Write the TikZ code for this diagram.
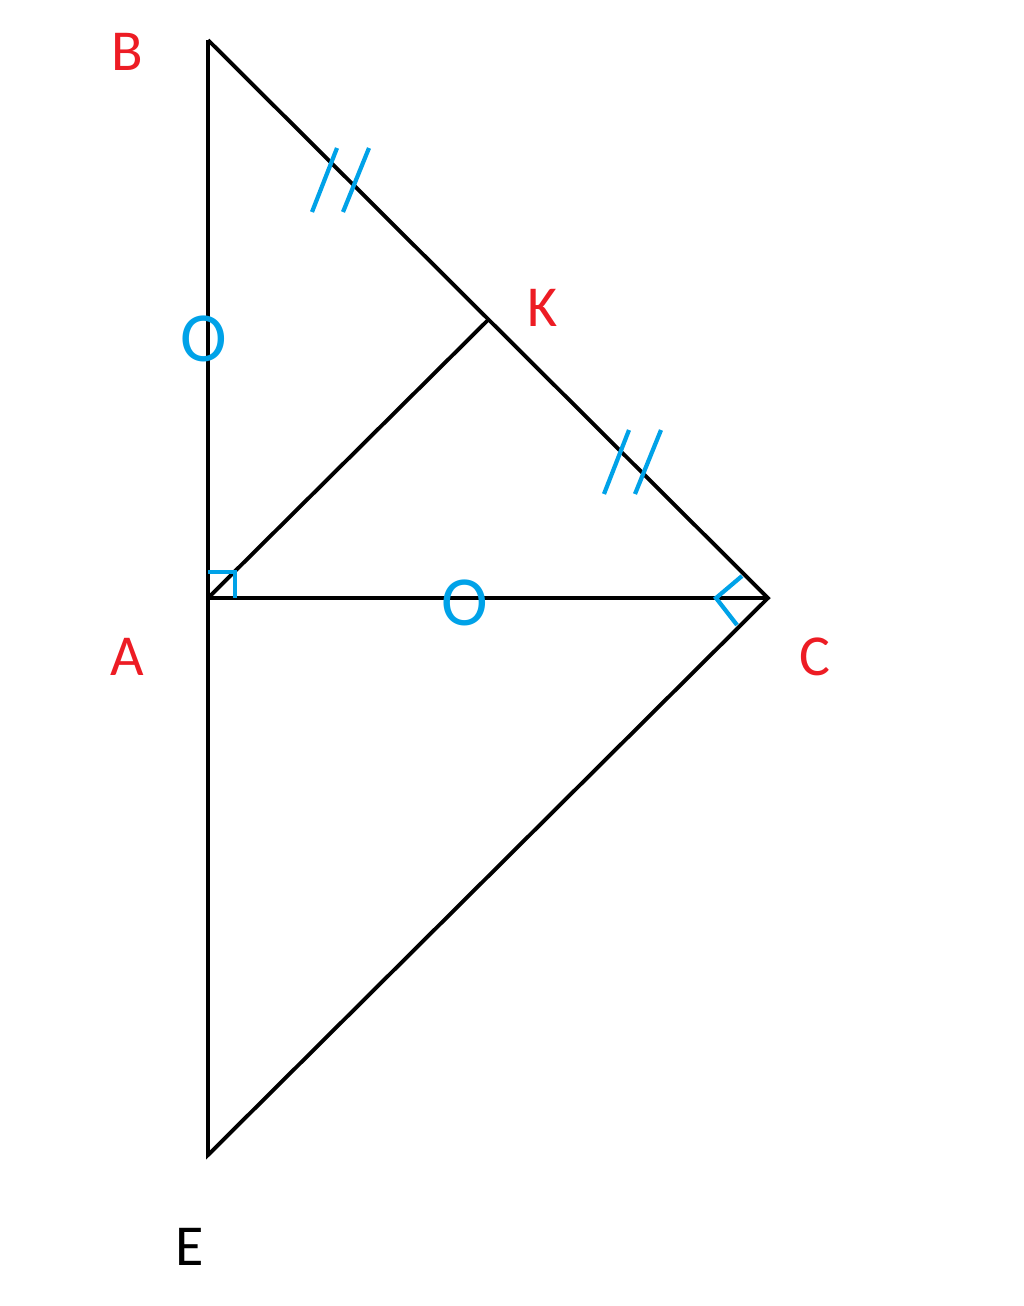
\documentclass[tikz,border=0pt]{standalone}
\usepackage{fontspec}
\setmainfont{Carlito}
\usepackage{xcolor}
\usetikzlibrary{calc}
\definecolor{markblue}{RGB}{0,162,232}
\definecolor{labelred}{RGB}{237,28,36}

\begin{document}
\begin{tikzpicture}[
  x=0.02cm, y=-0.02cm,
  side/.style={draw=black, line width=2.2pt},
  tick/.style={draw=markblue, line width=2.4pt},
  ptlabel/.style={text=labelred, font=\fontsize{33}{36}\selectfont, inner sep=0pt},
  ringmark/.style={text=markblue, font=\fontsize{40}{42}\selectfont, inner sep=0pt}
]
\useasboundingbox (0,0) rectangle (1024,1306);
\coordinate (A) at (208,598);
\coordinate (B) at (208,40);
\coordinate (C) at (768,598);
\coordinate (K) at (488,320);
\coordinate (E) at (208,1155);

% sides
\draw[side] (B) -- (A) -- (E) -- (C) -- (B);
\draw[side] (A) -- (C);
\draw[side] (A) -- (K);

% marks
\draw[tick] ($(A)+(0,-26)$) -- ($(A)+(27,-26)$) -- ($(A)+(27,0)$);
\draw[tick] (742,576) -- (716,598) -- (737,625);
\draw[tick] (312,212) -- (337,148);
\draw[tick] (343,212) -- (369,148);
\draw[tick] (604,494) -- (629,430);
\draw[tick] (635,494) -- (661,430);
\node[ringmark] (oab) at (204,339) {O};
\node[ringmark] (oac) at (465,603) {O};

% labels
\node[ptlabel] (lb) at (127,52) {B};
\node[ptlabel] (lk) at (543,308) {K};
\node[ptlabel] (la) at (127,657) {A};
\node[ptlabel] (lc) at (815,657) {C};
\node[ptlabel, text=black] (le) at (190,1247) {E};
\end{tikzpicture}
\end{document}
